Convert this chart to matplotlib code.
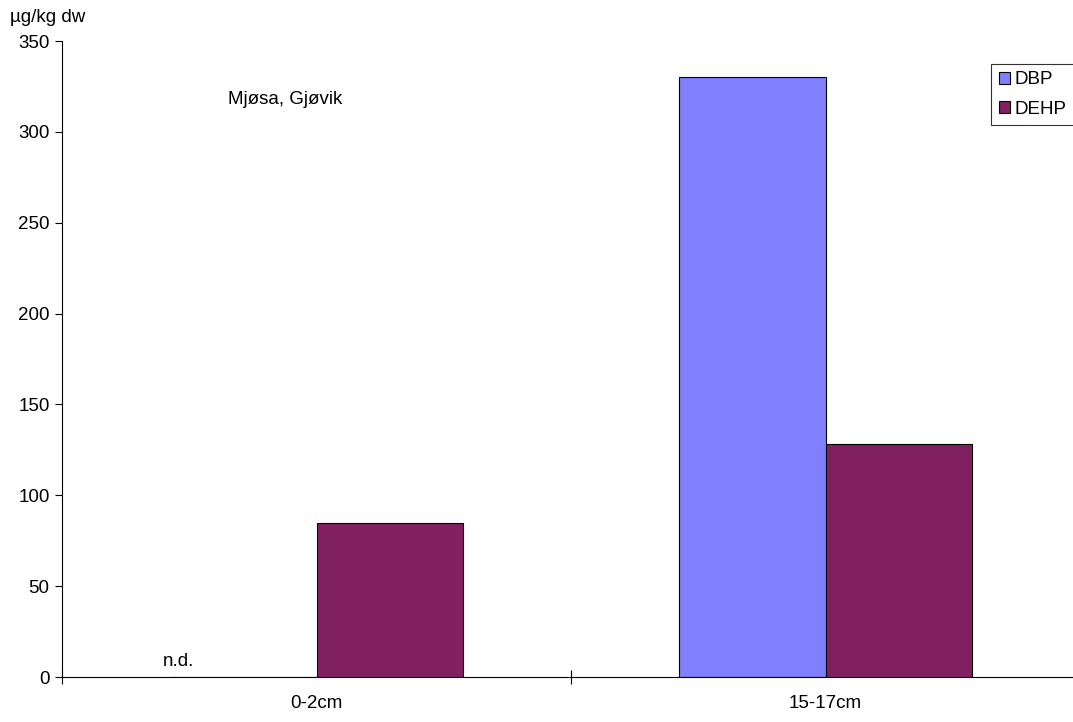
import numpy as np
import matplotlib.pyplot as plt

plt.rcParams['font.family'] = ['Liberation Sans', 'DejaVu Sans']

categories = ['0-2cm', '15-17cm']
dbp = [0, 330]
dehp = [85, 128]
series_names = ['DBP', 'DEHP']
colors = ['#8080FF', '#802060']

FS = 13.5

fig = plt.figure(figsize=(10.73, 7.22), dpi=100)
ax = fig.add_axes([62/1073, 1 - 677/722, 1018/1073, 636/722])

x = np.arange(len(categories))
w = 0.287
ax.bar(x - w/2, dbp, w, color=colors[0], edgecolor='black', linewidth=0.8, label=series_names[0])
ax.bar(x + w/2, dehp, w, color=colors[1], edgecolor='black', linewidth=0.8, label=series_names[1])

ax.set_xlim(-0.5, 1.5)
ax.set_ylim(0, 350)
ax.set_yticks(range(0, 351, 50))
ax.set_xticks(x)
ax.set_xticklabels(categories)
ax.set_xticks([-0.5, 0.5], minor=True)
ax.tick_params(axis='x', which='major', length=0, pad=13, labelsize=FS)
ax.tick_params(axis='x', which='minor', direction='inout', length=10, width=0.8)
ax.tick_params(axis='y', direction='out', length=5, width=0.8, labelsize=FS, pad=4)
for s in ['top', 'right']:
    ax.spines[s].set_visible(False)
for s in ['left', 'bottom']:
    ax.spines[s].set_linewidth(0.8)

ax.text(-0.272, 4, 'n.d.', ha='center', va='bottom', fontsize=FS)
fig.text(228/1073, 1 - 100/722, 'Mjøsa, Gjøvik', ha='left', va='center', fontsize=FS)
fig.text(10/1073, 1 - 17/722, 'µg/kg dw', ha='left', va='center', fontsize=FS)

leg = fig.legend(loc='upper left', bbox_to_anchor=(991/1073, 1 - 64/722, 120/1073, 0),
                 mode='expand', frameon=True,
                 fancybox=False, edgecolor='black', fontsize=FS, handlelength=0.59,
                 handleheight=0.59, handletextpad=0.25, borderpad=0.4, labelspacing=0.65,
                 borderaxespad=0)
leg.get_frame().set_linewidth(0.8)

fig.savefig('out.png', dpi=100)
